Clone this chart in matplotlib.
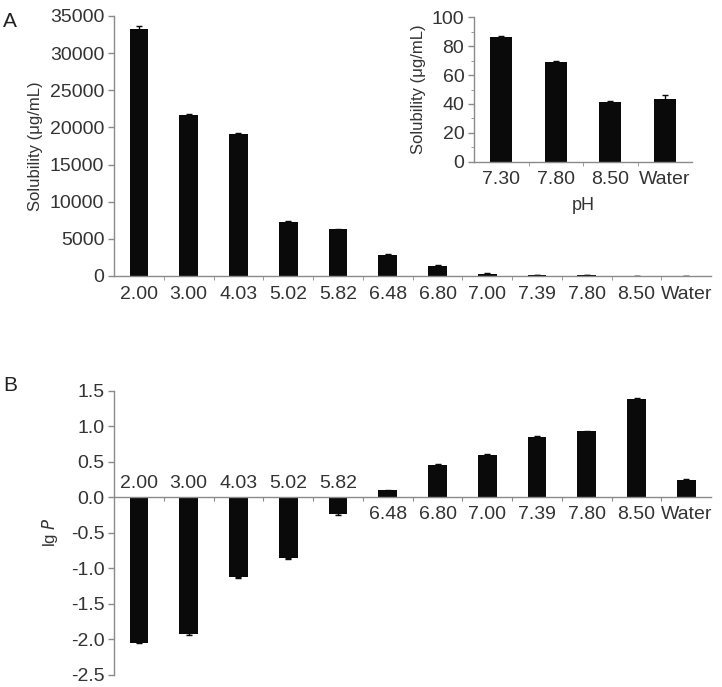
import matplotlib
matplotlib.use("Agg")
import matplotlib.pyplot as plt
from matplotlib.ticker import MultipleLocator
import numpy as np

plt.rcParams['font.family'] = ['Liberation Sans', 'DejaVu Sans']

categories = ["2.00", "3.00", "4.03", "5.02", "5.82", "6.48", "6.80", "7.00", "7.39", "7.80", "8.50", "Water"]
solubility = [33300, 21700, 19150, 7300, 6280, 2830, 1390, 330, 87, 70, 42, 44]
solubility_err = [300, 150, 150, 80, 80, 60, 50, 20, 5, 5, 3, 5]

inset_categories = ["7.30", "7.80", "8.50", "Water"]
inset_solubility = [86.2, 69.3, 41.4, 43.5]
inset_err = [1.0, 0.6, 0.6, 2.4]

lgP = [-2.05, -1.925, -1.13, -0.86, -0.24, 0.095, 0.46, 0.60, 0.85, 0.93, 1.385, 0.236]
lgP_err = [0.01, 0.01, 0.01, 0.01, 0.01, 0.005, 0.01, 0.005, 0.005, 0.005, 0.01, 0.02]

spine_c = '#8a8a8a'
text_c = '#333333'
bar_c = '#0a0a0a'
FS = 14

fig = plt.figure(figsize=(7.22, 6.87), dpi=100)

def style(ax, fs=FS):
    for s in ['top', 'right']:
        ax.spines[s].set_visible(False)
    for s in ['left', 'bottom']:
        ax.spines[s].set_color(spine_c)
        ax.spines[s].set_linewidth(1.0)
    ax.tick_params(axis='y', colors=spine_c, labelcolor=text_c, labelsize=fs, length=4, width=1, direction='out', pad=3)
    ax.tick_params(axis='x', colors=spine_c, labelcolor=text_c, labelsize=fs, length=0, pad=7)

# Panel A
axA = fig.add_axes([0.158, 0.5983, 0.827, 0.3785])
x = np.arange(len(categories))
axA.bar(x, solubility, width=0.38, color=bar_c, yerr=solubility_err,
        error_kw=dict(ecolor=bar_c, elinewidth=1, capsize=2, capthick=1))
axA.set_xlim(-0.5, len(categories) - 0.5)
axA.set_ylim(0, 35000)
axA.yaxis.set_major_locator(MultipleLocator(5000))
axA.set_xticks(x)
axA.set_xticklabels(categories)
axA.set_xticks(x[:-1] + 0.5, minor=True)
axA.tick_params(axis='x', which='minor', length=3, color=spine_c)
style(axA)
axA.set_ylabel("Solubility (μg/mL)", fontsize=12, color=text_c, labelpad=5)
fig.text(0.004, 0.982, "A", fontsize=15, color='#222222', va='top', ha='left')

# Inset
axI = fig.add_axes([0.6565, 0.7646, 0.302, 0.2102])
xi = np.arange(len(inset_categories))
axI.bar(xi, inset_solubility, width=0.4, color=bar_c, yerr=inset_err,
        error_kw=dict(ecolor=bar_c, elinewidth=1, capsize=2, capthick=1))
axI.set_xlim(-0.5, len(inset_categories) - 0.5)
axI.set_ylim(0, 100)
axI.yaxis.set_major_locator(MultipleLocator(20))
axI.yaxis.set_minor_locator(MultipleLocator(10))
axI.set_xticks(xi)
axI.set_xticklabels(inset_categories)
axI.set_xticks(xi[:-1] + 0.5, minor=True)
axI.tick_params(axis='x', which='minor', length=3, color=spine_c)
axI.tick_params(axis='y', which='minor', length=2, color=spine_c)
axI.patch.set_alpha(0)
style(axI)
axI.set_ylabel("Solubility (μg/mL)", fontsize=12, color=text_c, labelpad=4)
axI.set_xlabel("pH", fontsize=13, color=text_c, labelpad=6)

# Panel B
axB = fig.add_axes([0.158, 0.018, 0.827, 0.4133])
xb = np.arange(len(categories))
axB.bar(xb, lgP, width=0.38, color=bar_c, yerr=lgP_err,
        error_kw=dict(ecolor=bar_c, elinewidth=1, capsize=2, capthick=1))
axB.set_xlim(-0.5, len(categories) - 0.5)
axB.set_ylim(-2.5, 1.5)
axB.yaxis.set_major_locator(MultipleLocator(0.5))
axB.yaxis.set_major_formatter(plt.FuncFormatter(lambda v, p: f"{v:.1f}"))
axB.spines['bottom'].set_position(('data', 0))
axB.set_xticks(xb[:-1] + 0.5)
axB.set_xticklabels([])
style(axB)
axB.tick_params(axis='x', length=3, color=spine_c)
for xi_, lab, v in zip(xb, categories, lgP):
    if v < 0:
        axB.annotate(lab, (xi_, 0), xytext=(0, 4), textcoords='offset points',
                     ha='center', va='bottom', fontsize=FS, color=text_c)
    else:
        axB.annotate(lab, (xi_, 0), xytext=(0, -6), textcoords='offset points',
                     ha='center', va='top', fontsize=FS, color=text_c)
axB.set_ylabel("lg $\\it{P}$", fontsize=12, color=text_c, labelpad=8)
fig.text(0.004, 0.452, "B", fontsize=15, color='#222222', va='top', ha='left')

fig.savefig("out.png", dpi=100)
